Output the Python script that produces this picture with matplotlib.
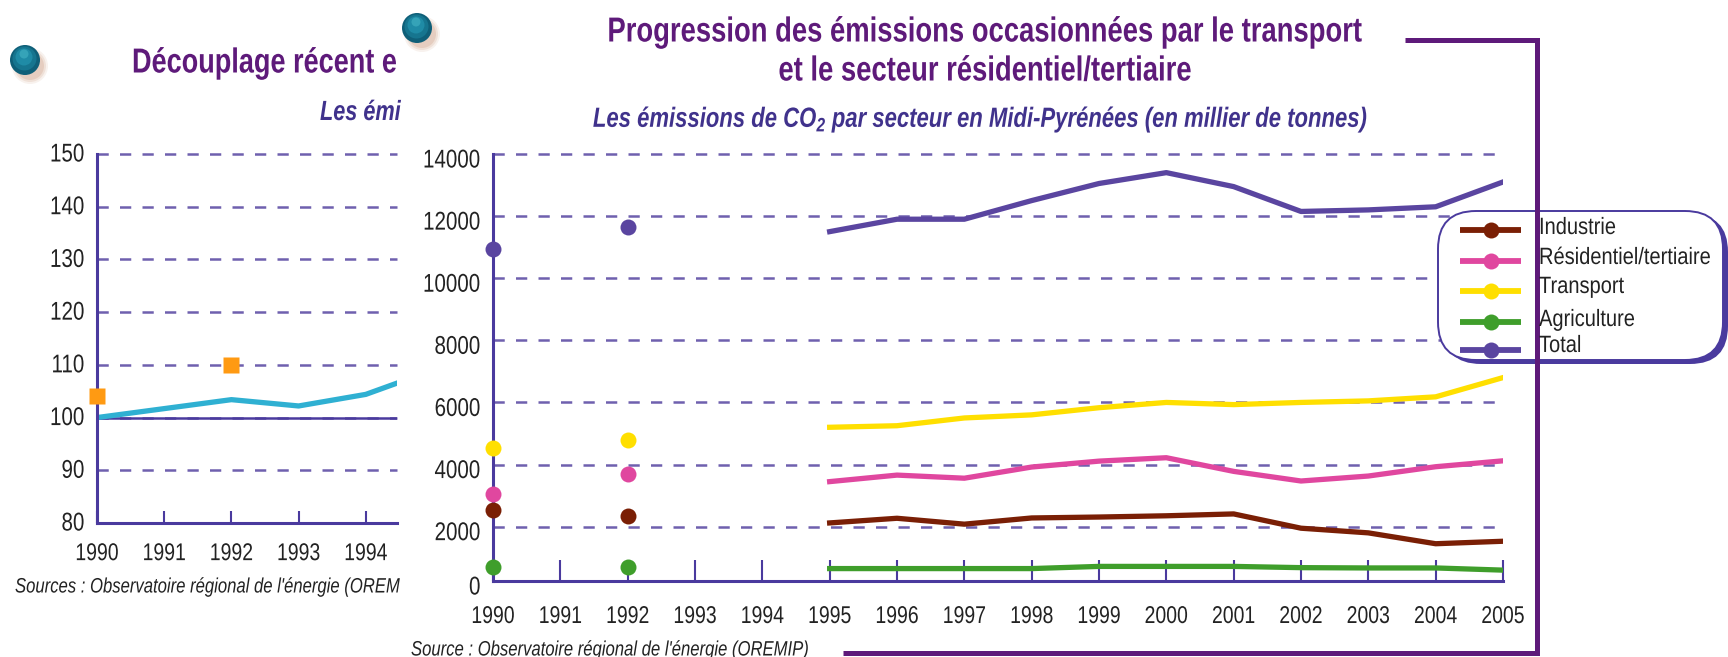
import matplotlib
matplotlib.use('Agg')
import matplotlib.pyplot as plt
from matplotlib.patches import FancyBboxPatch, Circle
from matplotlib.patheffects import AbstractPathEffect
from matplotlib.transforms import Affine2D

W, H = 1728, 657
plt.rcParams['font.family'] = ['Liberation Sans']

years_full = list(range(1990, 2006))
years_line = list(range(1995, 2006))
years_dots = [1990, 1992]

industrie = [2120, 2270, 2080, 2280, 2310, 2350, 2410, 1950, 1800, 1450, 1530]
residentiel = [3450, 3660, 3560, 3920, 4110, 4220, 3780, 3470, 3630, 3930, 4120]
transport = [5200, 5250, 5500, 5600, 5830, 6000, 5930, 6000, 6050, 6180, 6800]
agriculture = [650, 650, 650, 650, 720, 720, 720, 680, 670, 670, 600]
total = [11500, 11900, 11900, 12500, 13050, 13400, 12950, 12150, 12200, 12300, 13100]

industrie_dots = [2550, 2350]
residentiel_dots = [3050, 3700]
transport_dots = [4530, 4800]
agriculture_dots = [700, 700]
total_dots = [10950, 11650]

labels = ['Industrie', 'Résidentiel/tertiaire', 'Transport', 'Agriculture', 'Total']
colors = ['#7a1f05', '#e0479f', '#ffdf00', '#3f9e2b', '#5a45a0']

left_years = [1990, 1991, 1992, 1993, 1994, 1995]
left_index = [100, 101.7, 103.4, 102.2, 104.4, 109]
left_square_years = [1990, 1992]
left_square_values = [104, 110]
left_ticks = [80, 90, 100, 110, 120, 130, 140, 150]

# the printed scale is squeezed under 2000, the 0 sits at about 250 on the others' scale
right_ticks = [250, 2000, 4000, 6000, 8000, 10000, 12000, 14000]
right_tick_labels = ['0', '2000', '4000', '6000', '8000', '10000', '12000', '14000']

AXIS = '#4a3a9e'
GRID = '#6f60ae'
PURPLE = '#5e1a7a'
BLUE = '#40328c'
TEXT = '#222222'


class Squeeze(AbstractPathEffect):
    # the original font is a narrow one, none is installed: squeeze x around the text anchor
    def __init__(self, text, sx):
        super().__init__()
        self.text = text
        self.sx = sx

    def draw_path(self, renderer, gc, tpath, affine, rgbFace=None):
        x0 = self.text.get_transform().transform(self.text.get_position())[0]
        squeeze = Affine2D().translate(-x0, 0).scale(self.sx, 1).translate(x0, 0)
        renderer.draw_path(gc, tpath, affine + squeeze, rgbFace)


def px_axes(fig, x0, y0, x1, y1):
    # pixel box, y from the top
    return fig.add_axes([x0 / W, 1 - y1 / H, (x1 - x0) / W, (y1 - y0) / H])


def style_axes(ax, ticklen, pad):
    ax.patch.set_alpha(0)
    for s in ['top', 'right']:
        ax.spines[s].set_visible(False)
    for s in ['left', 'bottom']:
        ax.spines[s].set_color(AXIS)
        ax.spines[s].set_linewidth(2.2)
    ax.tick_params(axis='y', length=0, labelsize=18.5, labelcolor=TEXT, pad=9)
    ax.tick_params(axis='x', direction='in', length=ticklen, width=1.5, color=AXIS,
                   labelsize=17.5, labelcolor=TEXT, pad=pad)
    ax.grid(axis='y', color=GRID, lw=1.8, dashes=(4.5, 4.5), clip_on=False)
    ax.set_axisbelow(True)


def squeeze_ticks(ax, sx, shift):
    for lab in ax.get_xticklabels():
        lab.set_path_effects([Squeeze(lab, sx)])
    for lab in ax.get_yticklabels():
        lab.set_transform(lab.get_transform() + Affine2D().translate(0, shift))
        lab.set_path_effects([Squeeze(lab, sx)])


def put(ax, x, y, s, sx, **kw):
    t = ax.text(x, y, s, va='center', **kw)
    t.set_path_effects([Squeeze(t, sx)])
    return t


fig = plt.figure(figsize=(W / 100, H / 100), dpi=100, facecolor='white')

# left chart, cut off by the right one
ax1 = px_axes(fig, 97, 154, 397, 523)
ax1.set_xlim(1990, 1990 + 300 / 67.2)
ax1.set_ylim(80, 150)
style_axes(ax1, 9, 14.5)
ax1.set_yticks(left_ticks)
ax1.set_xticks(left_years[:5])
ax1.axhline(100, color=AXIS, lw=1.8)
ax1.plot(left_years, left_index, color='#2fb0d2', lw=3.8)
ax1.plot(left_square_years, left_square_values, ls='none', marker='s', ms=12,
         color='#ff9a12', mec='none', clip_on=False, zorder=5)
squeeze_ticks(ax1, 0.8, 2)

# right chart
ax2 = px_axes(fig, 493, 154, 1503, 581)
ax2.set_xlim(1990, 2005)
ax2.set_ylim(250, 14000)
style_axes(ax2, 15, 18)
ax2.set_yticks(right_ticks)
ax2.set_yticklabels(right_tick_labels)
ax2.set_xticks(years_full)
series = [industrie, residentiel, transport, agriculture, total]
dots = [industrie_dots, residentiel_dots, transport_dots, agriculture_dots, total_dots]
for vals, dv, c in zip(series, dots, colors):
    ax2.plot(years_line, vals, color=c, lw=3.8, zorder=3)
    ax2.plot(years_dots, dv, ls='none', marker='o', ms=11.5, color=c, mec='none',
             clip_on=False, zorder=5)
squeeze_ticks(ax2, 0.8, -4)

# overlay in pixels for titles, frame, balls and legend
ov = px_axes(fig, 0, 0, W, H)
ov.set_xlim(0, W)
ov.set_ylim(H, 0)
ov.axis('off')
ov.patch.set_alpha(0)

ov.plot([1405, 1537, 1537, 843], [40, 40, 653, 653], color=PURPLE, lw=3.6,
        solid_joinstyle='miter', solid_capstyle='butt')

for cx, cy in [(25, 60), (417, 28)]:
    for r, a in [(18, 0.10), (16, 0.15), (14, 0.2)]:
        ov.add_patch(Circle((cx + 5, cy + 6), r, color='#c08060', alpha=a, lw=0))
    ov.add_patch(Circle((cx, cy), 15, color='#0f5f78', lw=0))
    ov.add_patch(Circle((cx - 0.5, cy - 1.5), 12, color='#16758f', lw=0))
    ov.add_patch(Circle((cx - 1, cy - 3), 8.5, color='#1f8ba6', lw=0))
    ov.add_patch(Circle((cx - 1, cy - 6), 4.5, color='#35a3b8', lw=0))

put(ov, 985, 32, 'Progression des émissions occasionnées par le transport', 0.79, color=PURPLE,
    fontsize=25, fontweight='bold', ha='center')
put(ov, 985, 71, 'et le secteur résidentiel/tertiaire', 0.79, color=PURPLE,
    fontsize=25, fontweight='bold', ha='center')
put(ov, 980, 120, r'Les émissions de CO$_{\mathregular{2}}$ par secteur en Midi-Pyrénées (en millier de tonnes)',
    0.795, color=BLUE, fontsize=20, fontweight='bold', style='italic', ha='center')
put(ov, 132, 63, 'Découplage récent e', 0.78, color=PURPLE, fontsize=25, fontweight='bold', ha='left')
put(ov, 320, 113, 'Les émi', 0.78, color=BLUE, fontsize=20, fontweight='bold', style='italic', ha='left')
put(ov, 15, 587, "Sources : Observatoire régional de l'énergie (OREM", 0.8, color=TEXT, fontsize=15,
    style='italic', ha='left')
put(ov, 411, 650, "Source : Observatoire régional de l'énergie (OREMIP)", 0.8, color=TEXT, fontsize=15,
    style='italic', ha='left')

# legend box with its shadow
box = dict(boxstyle='round,pad=0,rounding_size=38')
ov.add_patch(FancyBboxPatch((1443, 214), 285, 150, fc=AXIS, ec='none', **box))
ov.add_patch(FancyBboxPatch((1438, 211), 285, 149, fc='white', ec=AXIS, lw=1.4, **box))
for lab, c, yh, yt in zip(labels, colors, [230, 261, 291, 322, 350], [228, 258, 287, 320, 346]):
    ov.plot([1460, 1521], [yh, yh], color=c, lw=4.2, solid_capstyle='butt')
    ov.plot([1491], [yh], marker='o', ms=11.5, color=c, mec='none')
    put(ov, 1539, yt, lab, 0.85, color=TEXT, fontsize=17, ha='left')

fig.savefig('out.png', dpi=100)
